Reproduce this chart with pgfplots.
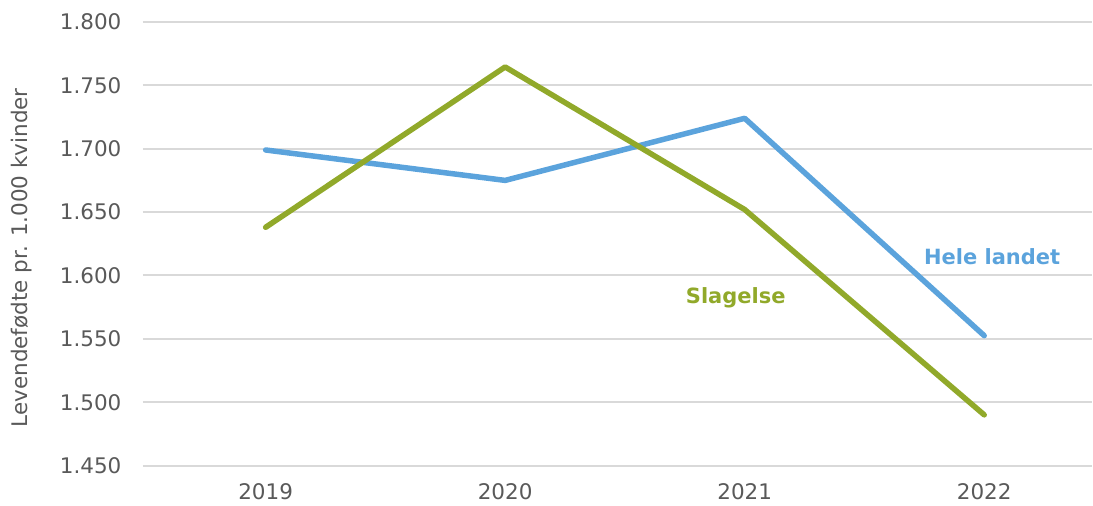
\documentclass[border=0pt]{standalone}
\usepackage{pgfplots}
\pgfplotsset{compat=1.18}
\usepackage{fontspec}
\setmainfont{DejaVu Sans}
\definecolor{txt}{HTML}{595959}
\definecolor{gridc}{HTML}{D9D9D9}
\definecolor{blueline}{HTML}{5BA3DC}
\definecolor{greenline}{HTML}{91A92A}
\begin{document}
\begin{tikzpicture}[x=1pt,y=1pt]
\begin{axis}[
  at={(0pt,0pt)}, anchor=south west,
  scale only axis,
  width=950pt, height=444pt,
  xmin=-0.5125, xmax=3.45,
  ymin=1450, ymax=1800,
  ytick={1450,1500,...,1800},
  xtick={0,1,2,3},
  xticklabels={2019,2020,2021,2022},
  axis line style={draw=none},
  major tick length=0pt,
  tick style={draw=none},
  xmajorgrids=false,
  ymajorgrids=true,
  grid style={draw=gridc, line width=2pt},
  tick label style={font=\fontsize{21.5}{25}\selectfont, text=txt},
  yticklabel style={xshift=-18pt},
  xticklabel style={yshift=-14pt},
  /pgf/number format/.cd, fixed, precision=0, 1000 sep={.}, min exponent for 1000 sep=0, assume math mode=true,
  /pgfplots/.cd,
  clip=false,
]
\addplot[blueline, line width=5.5pt, line join=round, line cap=round] coordinates {(0,1699) (1,1675) (2,1724) (3,1552.5)};
\addplot[greenline, line width=5.5pt, line join=round, line cap=round] coordinates {(0,1638) (1,1764.5) (2,1652) (3,1490)};
\node[text=blueline, font=\fontsize{21}{25}\selectfont\bfseries] at (axis cs:3.033,1614.8) {Hele landet};
\node[text=greenline, font=\fontsize{21}{25}\selectfont\bfseries] at (axis cs:1.9625,1582.4) {Slagelse};
\end{axis}
\node[rotate=90, text=txt, font=\fontsize{21.5}{25}\selectfont] at (-121pt,208pt) {Levendefødte pr. 1.000 kvinder};
\useasboundingbox (-143pt,-40pt) rectangle (950pt,466pt);
\end{tikzpicture}
\end{document}
